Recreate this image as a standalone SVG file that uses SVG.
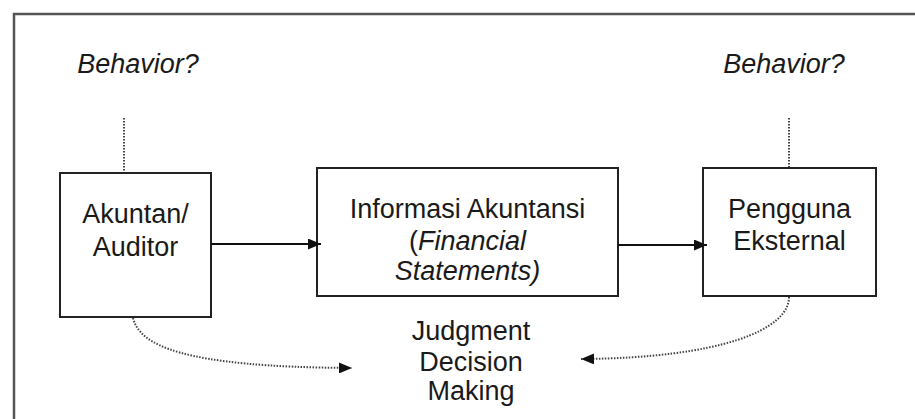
<svg xmlns="http://www.w3.org/2000/svg" width="915" height="419" viewBox="0 0 915 419">
<style>
.box{fill:#fff;stroke:#222;stroke-width:2}
.t{font-family:"Liberation Sans",Arial,sans-serif;font-size:27px;fill:#1a1a1a;text-anchor:middle}
.it{font-style:italic}
.solid{fill:none;stroke:#111;stroke-width:2}
.dot{fill:none;stroke:#444;stroke-width:2;stroke-dasharray:1.5 1.5}
</style>
<defs>
<marker id="ah" markerWidth="13" markerHeight="11" refX="13" refY="5.5" orient="auto" markerUnits="userSpaceOnUse">
<path d="M0,0 L13,5.5 L0,11 Z" fill="#111"/>
</marker>
</defs>
<rect width="915" height="419" fill="#fff"/>
<g id="frame">
<path d="M14,419 L14,14 L915,14" fill="none" stroke="#555" stroke-width="2.5"/>
</g>
<g id="behavior-left"><text class="t it" x="138" y="73">Behavior?</text></g>
<g id="behavior-right"><text class="t it" x="784" y="73">Behavior?</text></g>
<g id="akuntan">
<rect class="box" x="60" y="173" width="151" height="144"/>
<text class="t" x="135.5" y="223">Akuntan/</text>
<text class="t" x="135.5" y="256">Auditor</text>
</g>
<g id="informasi">
<rect class="box" x="317" y="168" width="301" height="128"/>
<text class="t" x="467.5" y="218">Informasi Akuntansi</text>
<text class="t" x="467.5" y="250">(<tspan class="it">Financial</tspan></text>
<text class="t it" x="467.5" y="280">Statements)</text>
</g>
<g id="pengguna">
<rect class="box" x="703" y="168" width="173" height="128"/>
<text class="t" x="789.5" y="218">Pengguna</text>
<text class="t" x="789.5" y="250">Eksternal</text>
</g>
<g id="judgment">
<text class="t" x="471" y="340">Judgment</text>
<text class="t" x="471" y="371">Decision</text>
<text class="t" x="471" y="400">Making</text>
</g>
<g id="connectors">
<line class="dot" x1="124" y1="118" x2="124" y2="172"/>
<line class="dot" x1="789" y1="118" x2="789" y2="167"/>
<line class="solid" x1="211" y1="244" x2="321" y2="244" marker-end="url(#ah)"/>
<line class="solid" x1="618" y1="245" x2="707" y2="245" marker-end="url(#ah)"/>
<path class="dot" d="M133,318 C140,345 180,367 352,368" marker-end="url(#ah)"/>
<path class="dot" d="M789,297 C789,330 720,358 581,359" marker-end="url(#ah)"/>
</g>
</svg>
